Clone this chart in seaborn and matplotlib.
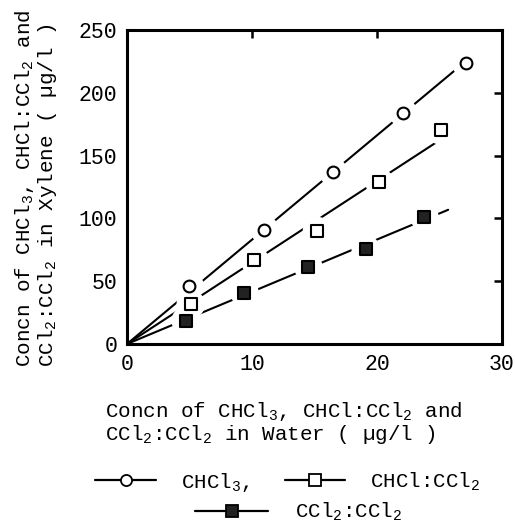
import numpy as np
import pandas as pd
import matplotlib
matplotlib.use("Agg")
import matplotlib.pyplot as plt
from matplotlib.lines import Line2D
import seaborn as sns

sns.set_theme(style="white")
plt.rcParams['font.family'] = ['Liberation Mono', 'DejaVu Sans Mono']
plt.rcParams['mathtext.fontset'] = 'custom'
plt.rcParams['mathtext.rm'] = 'Liberation Mono'
plt.rcParams['mathtext.it'] = 'Liberation Mono'
plt.rcParams['text.color'] = 'black'

# values (water conc, xylene conc)
chcl3_x = [5.0, 11.0, 16.5, 22.1, 27.1]
chcl3_y = [46.4, 91.0, 137.0, 184.0, 224.0]
tce_x = [5.1, 10.2, 15.2, 20.2, 25.1]
tce_y = [31.6, 66.7, 90.0, 128.7, 170.0]
pce_x = [4.7, 9.4, 14.5, 19.1, 23.8]
pce_y = [18.5, 40.9, 61.4, 75.4, 101.0]
# where each drawn fit line stops
fit_end = [27.1, 25.2, 25.7]

names = ["CHCl$_3$,", "CHCl:CCl$_2$", "CCl$_2$:CCl$_2$"]
markers = ["o", "s", "s"]
faces = ["white", "white", "#222222"]

series = [(chcl3_x, chcl3_y), (tce_x, tce_y), (pce_x, pce_y)]

fig = plt.figure(figsize=(5.15, 5.27), dpi=100)
ax = fig.add_axes([0.2466, 0.3473, 0.728, 0.5957])

for i, (xs, ys) in enumerate(series):
	xs = np.array(xs); ys = np.array(ys)
	# least squares line through the origin
	k = (xs * ys).sum() / (xs * xs).sum()
	line = pd.DataFrame({"x": [0, fit_end[i]], "y": [0, k * fit_end[i]]})
	sns.lineplot(data=line, x="x", y="y", ax=ax, color="black", lw=1.5, zorder=1)
	# white halo so the line breaks round each marker
	ax.scatter(xs, ys, s=420, c="white", edgecolors="none", zorder=4)
	df = pd.DataFrame({"x": xs, "y": ys})
	sns.scatterplot(data=df, x="x", y="y", ax=ax, marker=markers[i], s=72,
		color=faces[i], edgecolor="black", linewidth=1.5, zorder=5)

ax.set_xlim(0, 30)
ax.set_ylim(0, 250)
ax.set_xticks([0, 10, 20, 30])
ax.set_yticks([0, 50, 100, 150, 200, 250])
ax.set_xlabel("")
ax.set_ylabel("")
for s in ax.spines.values():
	s.set_linewidth(2.2)
	s.set_color("black")
ax.tick_params(direction="in", length=6, width=1.8, top=True, right=True,
	labelsize=15.5, colors="black", pad=7)

fig.text(0.07, 0.643,
	"Concn of CHCl$_3$, CHCl:CCl$_2$ and\nCCl$_2$:CCl$_2$ in Xylene ( µg/l )",
	rotation=90, ha="center", va="center", fontsize=15, linespacing=1.0,
	multialignment="left")
fig.text(0.204, 0.197,
	"Concn of CHCl$_3$, CHCl:CCl$_2$ and\nCCl$_2$:CCl$_2$ in Water ( µg/l )",
	ha="left", va="center", fontsize=15, linespacing=1.0)

handles = []
for i in range(3):
	handles.append(Line2D([], [], color="black", lw=1.6, marker=markers[i],
		markersize=8, markerfacecolor=faces[i], markeredgecolor="black",
		markeredgewidth=1.3))
fig.legend(handles[:2], names[:2], loc="center", ncol=2,
	bbox_to_anchor=(0.559, 0.085), frameon=False, fontsize=15,
	handlelength=2.9, columnspacing=1.7, handletextpad=1.2,
	borderpad=0, borderaxespad=0)
fig.legend(handles[2:], names[2:], loc="center",
	bbox_to_anchor=(0.58, 0.028), frameon=False, fontsize=15,
	handlelength=3.5, handletextpad=1.3, borderpad=0, borderaxespad=0)

fig.savefig("out.png", dpi=100)
